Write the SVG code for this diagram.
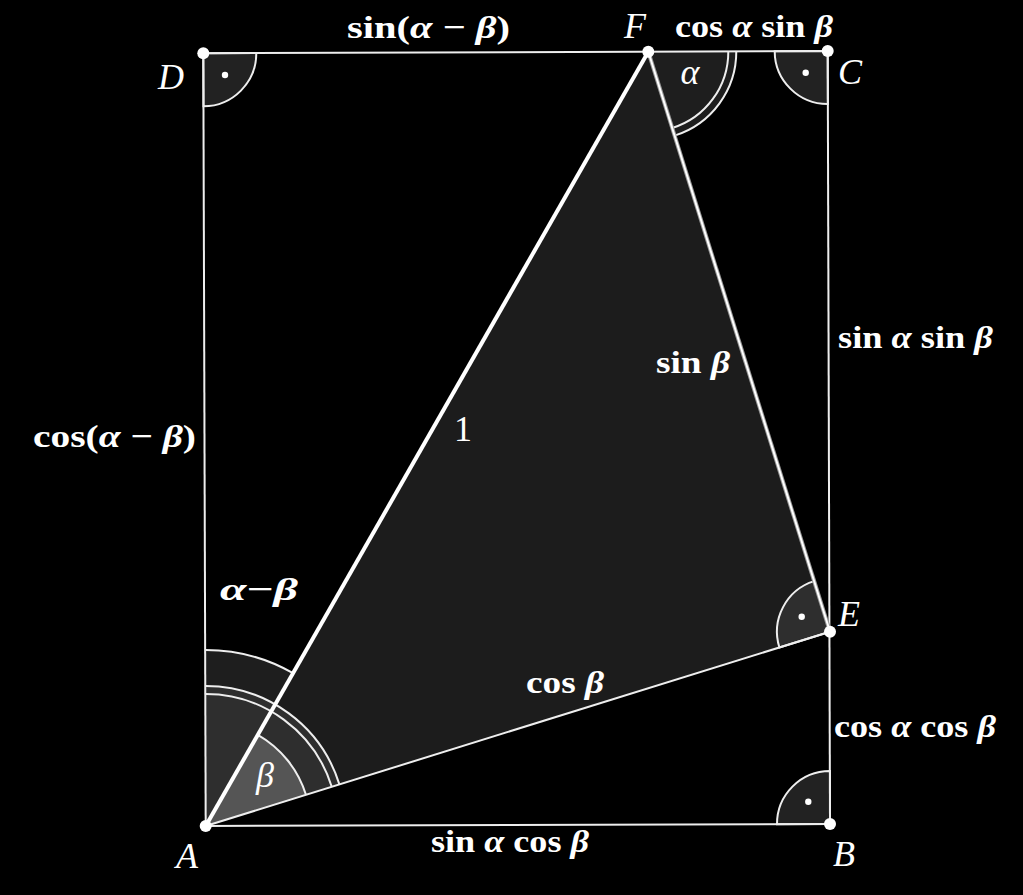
<svg xmlns="http://www.w3.org/2000/svg" width="1023" height="895" viewBox="0 0 1023 895">
<style>
.lbl{font-family:"Liberation Serif","DejaVu Serif",serif;font-weight:bold;font-size:32px;fill:#fff}
.g{font-style:italic}
.pt{font-family:"Liberation Serif","DejaVu Serif",serif;font-style:italic;font-size:36px;fill:#fff}
.num{font-family:"Liberation Serif","DejaVu Serif",serif;font-size:36px;fill:#fff}
.arc{fill:none;stroke:#eee;stroke-width:2}
.ra{fill:#222;stroke:#eee;stroke-width:2}
.dot{fill:#fff}
.edge{stroke:#eee;stroke-width:2;fill:none}
</style>
<rect width="1023" height="895" fill="#000"/>
<g id="triangle">
<polygon points="205.7,826 648.3,51.7 830,631.7" fill="#1c1c1c"/>
</g>
<g id="angles">
<path d="M205.7,826 L205.15,650 A176,176 0 0 1 293.05,673.2 Z" fill="#1e1e1e"/>
<path d="M205.15,650 A176,176 0 0 1 293.05,673.2" class="arc"/>
<path d="M205.7,826 L205.26,686 A140,140 0 0 1 339.37,784.39 Z" fill="#2e2e2e"/>
<path d="M205.26,686 A140,140 0 0 1 339.37,784.39" class="arc"/>
<path d="M205.29,694 A132,132 0 0 1 331.73,786.77" class="arc"/>
<path d="M205.7,826 L257.81,734.84 A105,105 0 0 1 305.95,794.79 Z" fill="#555"/>
<path d="M257.81,734.84 A105,105 0 0 1 305.95,794.79" class="arc"/>
<path d="M648.3,51.7 L736.3,51.36 A88,88 0 0 1 674.61,135.67 Z" fill="#1e1e1e"/>
<path d="M736.3,51.36 A88,88 0 0 1 674.61,135.67" class="arc"/>
<path d="M728.3,51.4 A80,80 0 0 1 672.22,128.04" class="arc"/>
<path d="M203.3,53.3 L256.3,53.1 A53,53 0 0 1 203.5,106.3 Z" class="ra"/>
<path d="M827.7,51 L827.9,104 A53,53 0 0 1 774.7,51.2 Z" class="ra"/>
<path d="M830,824 L777,824.2 A53,53 0 0 1 830,771 Z" class="ra"/>
<path d="M830,631.7 L779.4,647.45 A53,53 0 0 1 814.15,581.13 Z" fill="#2e2e2e" stroke="#eee" stroke-width="2"/>
<circle cx="225" cy="75" r="3.2" class="dot"/>
<circle cx="805.7" cy="72.7" r="3.2" class="dot"/>
<circle cx="808.3" cy="801.7" r="3.2" class="dot"/>
<circle cx="801.7" cy="616.7" r="3.2" class="dot"/>
</g>
<g id="connectors">
<line x1="205.7" y1="826" x2="830" y2="824" class="edge"/>
<line x1="830" y1="824" x2="827.7" y2="51" class="edge"/>
<line x1="827.7" y1="51" x2="203.3" y2="53.3" class="edge"/>
<line x1="203.3" y1="53.3" x2="205.7" y2="826" class="edge"/>
<line x1="205.7" y1="826" x2="830" y2="631.7" class="edge"/>
<line x1="648.3" y1="51.7" x2="830" y2="631.7" stroke="#999" stroke-width="4"/>
<line x1="648.3" y1="51.7" x2="830" y2="631.7" stroke="#fff" stroke-width="2"/>
<line x1="205.7" y1="826" x2="648.3" y2="51.7" stroke="#fff" stroke-width="4"/>
</g>
<g id="A"><circle cx="205.7" cy="826" r="6" class="dot"/><text x="176" y="868" class="pt">A</text></g>
<g id="B"><circle cx="830" cy="824" r="6" class="dot"/><text x="833" y="866" class="pt">B</text></g>
<g id="C"><circle cx="827.7" cy="51" r="6" class="dot"/><text x="838" y="84" class="pt">C</text></g>
<g id="D"><circle cx="203.3" cy="53.3" r="6" class="dot"/><text x="158" y="89" class="pt">D</text></g>
<g id="E"><circle cx="830" cy="631.7" r="6" class="dot"/><text x="838" y="626" class="pt">E</text></g>
<g id="F"><circle cx="648.3" cy="51.7" r="6" class="dot"/><text x="624" y="38" class="pt">F</text></g>
<g id="labels">
<text x="347" y="38" class="lbl" textLength="163" lengthAdjust="spacingAndGlyphs">sin(<tspan class="g">α</tspan> − <tspan class="g">β</tspan>)</text>
<text x="675" y="37" class="lbl" textLength="158" lengthAdjust="spacingAndGlyphs">cos <tspan class="g">α</tspan> sin <tspan class="g">β</tspan></text>
<text x="690" y="84" class="pt" text-anchor="middle" font-size="32">α</text>
<text x="838" y="348" class="lbl" textLength="155" lengthAdjust="spacingAndGlyphs">sin <tspan class="g">α</tspan> sin <tspan class="g">β</tspan></text>
<text x="656" y="373" class="lbl" textLength="74" lengthAdjust="spacingAndGlyphs">sin <tspan class="g">β</tspan></text>
<text x="463" y="441" class="num" text-anchor="middle">1</text>
<text x="33" y="447" class="lbl" textLength="163" lengthAdjust="spacingAndGlyphs">cos(<tspan class="g">α</tspan> − <tspan class="g">β</tspan>)</text>
<text x="220" y="600" class="lbl" textLength="78" lengthAdjust="spacingAndGlyphs"><tspan class="g">α</tspan>−<tspan class="g">β</tspan></text>
<text x="526" y="693" class="lbl" textLength="78" lengthAdjust="spacingAndGlyphs">cos <tspan class="g">β</tspan></text>
<text x="834" y="737" class="lbl" textLength="162" lengthAdjust="spacingAndGlyphs">cos <tspan class="g">α</tspan> cos <tspan class="g">β</tspan></text>
<text x="265" y="787" class="pt" text-anchor="middle" font-size="32">β</text>
<text x="431" y="852" class="lbl" textLength="158" lengthAdjust="spacingAndGlyphs">sin <tspan class="g">α</tspan> cos <tspan class="g">β</tspan></text>
</g>
</svg>
